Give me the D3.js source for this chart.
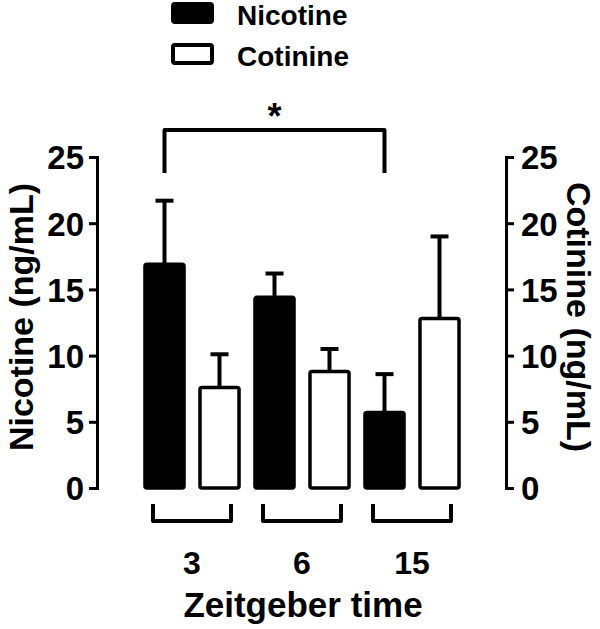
<!DOCTYPE html>
<html>
<head>
<meta charset="utf-8">
<script src="https://cdn.jsdelivr.net/npm/d3@7"></script>
<style>
  body { margin: 0; background: #fff; }
  text { font-family: "Liberation Sans", Arial, sans-serif; font-weight: bold; }
</style>
</head>
<body>
<div class="main"></div>
<script>
// Données
const groups = ['3', '6', '15'];
const series = ['Nicotine', 'Cotinine'];
const nicotineMean = [16.9, 14.4, 5.7];
const nicotineErr = [4.8, 1.8, 2.9];
const cotinineMean = [7.6, 8.8, 12.8];
const cotinineErr = [2.5, 1.7, 6.2];
const yTicks = [0, 5, 10, 15, 20, 25];

const width = 600;
const height = 629;

const svg = d3.select('.main')
  .append('svg')
  .attr('width', width)
  .attr('height', height);

// Échelles
const x = d3.scaleBand()
  .domain(groups)
  .range([137, 467]);

const xInner = d3.scaleBand()
  .domain(series)
  .range([0, x.bandwidth()])
  .paddingInner(0.29)
  .paddingOuter(0.145);

const yLeft = d3.scaleLinear().domain([0, 25]).range([488, 157]);
const yRight = d3.scaleLinear().domain([0, 25]).range([488, 157]);

const rows = [];
groups.forEach((g, i) => {
  rows.push({ group: g, serie: 'Nicotine', mean: nicotineMean[i], err: nicotineErr[i], y: yLeft });
  rows.push({ group: g, serie: 'Cotinine', mean: cotinineMean[i], err: cotinineErr[i], y: yRight });
});
const cx = d => x(d.group) + xInner(d.serie) + xInner.bandwidth() / 2;

// Barres d'erreur (dessinées avant les barres)
const errG = svg.append('g').attr('stroke', '#000');
errG.selectAll('line.v')
  .data(rows)
  .enter()
  .append('line')
  .attr('class', 'v')
  .attr('x1', cx).attr('x2', cx)
  .attr('y1', d => d.y(d.mean))
  .attr('y2', d => d.y(d.mean + d.err))
  .attr('stroke-width', 4);
errG.selectAll('line.cap')
  .data(rows)
  .enter()
  .append('line')
  .attr('class', 'cap')
  .attr('x1', d => cx(d) - 9).attr('x2', d => cx(d) + 9)
  .attr('y1', d => d.y(d.mean + d.err))
  .attr('y2', d => d.y(d.mean + d.err))
  .attr('stroke-width', 4);

// Barres
svg.append('g')
  .selectAll('rect')
  .data(rows)
  .enter()
  .append('rect')
  .attr('x', d => x(d.group) + xInner(d.serie))
  .attr('width', xInner.bandwidth())
  .attr('y', d => d.y(d.mean))
  .attr('height', d => d.y(0) - d.y(d.mean))
  .attr('rx', 2)
  .attr('fill', d => d.serie === 'Nicotine' ? '#000' : '#fff')
  .attr('stroke', '#000')
  .attr('stroke-width', 3.5);

// Axes verticaux
const styleAxis = g => {
  g.select('.domain').attr('stroke-width', 3);
  g.selectAll('.tick line').attr('stroke-width', 3);
  g.selectAll('.tick text')
    .attr('fill', '#000')
    .attr('dy', '0.36em')
    .style('font-size', '33px')
    .style('font-family', '"Liberation Sans", Arial, sans-serif')
    .style('font-weight', 'bold');
};

svg.append('g')
  .attr('transform', 'translate(97, 0)')
  .call(d3.axisLeft(yLeft).tickValues(yTicks).tickSize(8).tickSizeOuter(8).tickPadding(5))
  .call(styleAxis);

svg.append('g')
  .attr('transform', 'translate(506, 0)')
  .call(d3.axisRight(yRight).tickValues(yTicks).tickSize(8).tickSizeOuter(8).tickPadding(7))
  .call(styleAxis);

// Titres des axes
svg.append('text')
  .attr('transform', 'translate(33, 317) rotate(-90)')
  .attr('text-anchor', 'middle')
  .style('font-size', '34px')
  .text('Nicotine (ng/mL)');

svg.append('text')
  .attr('transform', 'translate(567, 317) rotate(90)')
  .attr('text-anchor', 'middle')
  .style('font-size', '34px')
  .text('Cotinine (ng/mL)');

// Crochets des groupes et libellés
svg.append('g')
  .selectAll('path')
  .data(groups)
  .enter()
  .append('path')
  .attr('d', g => {
    const c = x(g) + x.bandwidth() / 2;
    return `M${c - 39},504 V521 H${c + 39} V504`;
  })
  .attr('fill', 'none')
  .attr('stroke', '#000')
  .attr('stroke-width', 4)
  .attr('stroke-linejoin', 'round');

svg.append('g')
  .attr('text-anchor', 'middle')
  .style('font-size', '32px')
  .selectAll('text')
  .data(groups)
  .enter()
  .append('text')
  .attr('x', g => x(g) + x.bandwidth() / 2)
  .attr('y', 574)
  .text(g => g);

svg.append('text')
  .attr('x', 303)
  .attr('y', 617)
  .attr('text-anchor', 'middle')
  .style('font-size', '35px')
  .text('Zeitgeber time');

// Significativité
const nicA = rows[0], nicC = rows[4];
svg.append('path')
  .attr('d', `M${cx(nicA)},173 V130 H${cx(nicC)} V173`)
  .attr('fill', 'none')
  .attr('stroke', '#000')
  .attr('stroke-width', 4)
  .attr('stroke-linejoin', 'round');

svg.append('text')
  .attr('x', (cx(nicA) + cx(nicC)) / 2)
  .attr('y', 129)
  .attr('text-anchor', 'middle')
  .style('font-size', '36px')
  .text('*');

// Légende
const legend = svg.append('g')
  .selectAll('g')
  .data(series)
  .enter()
  .append('g')
  .attr('transform', (d, i) => `translate(0, ${i * 41})`);

legend.append('rect')
  .attr('x', 173).attr('y', 4)
  .attr('width', 39).attr('height', 18)
  .attr('rx', 2)
  .attr('fill', d => d === 'Nicotine' ? '#000' : '#fff')
  .attr('stroke', '#000')
  .attr('stroke-width', 4);

legend.append('text')
  .attr('x', 237)
  .attr('y', 25)
  .style('font-size', '28px')
  .text(d => d);
</script>
</body>
</html>
